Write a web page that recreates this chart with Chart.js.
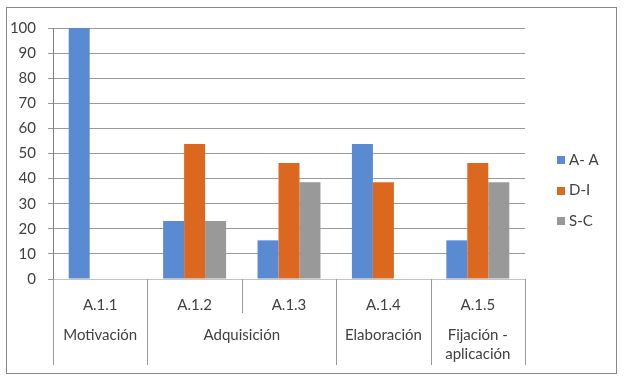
<!DOCTYPE html>
<html>
<head>
<meta charset="utf-8">
<script src="https://cdn.jsdelivr.net/npm/chart.js@4.4.0/dist/chart.umd.min.js"></script>
<style>
html,body{margin:0;padding:0;background:#fff;}
#wrap{width:626px;height:378px;position:relative;}
</style>
</head>
<body>
<div id="wrap"><canvas id="c" width="626" height="378"></canvas></div>
<script>
const categories = ['A.1.1', 'A.1.2', 'A.1.3', 'A.1.4', 'A.1.5'];
const groupLabels = ['Motivación', 'Adquisición', 'Elaboración', ['Fijación -', 'aplicación']];
const groupSpans = [1, 2, 1, 1];
const seriesNames = ['A- A', 'D-I', 'S-C'];
const seriesAA = [100, 23.1, 15.4, 53.8, 15.4];
const seriesDI = [0, 53.8, 46.2, 38.5, 46.2];
const seriesSC = [0, 23.1, 38.5, 0, 38.5];
const yTicks = [0, 10, 20, 30, 40, 50, 60, 70, 80, 90, 100];
const colors = ['#5A8AD2', '#DC6820', '#999999'];

const FONT = 'Lato, "Open Sans", sans-serif';
const TEXT = '#404040';
const GRID = '#9a9a9a';

const decor = {
  id: 'decor',
  afterDraw(chart) {
    const ctx = chart.ctx;
    const x = chart.scales.x;
    const area = chart.chartArea;
    const half = (x.getPixelForValue(1) - x.getPixelForValue(0)) / 2;
    const top = area.bottom;
    const rowBottom = top + 34;
    const bottom = top + 86;
    ctx.save();
    ctx.strokeStyle = GRID;
    ctx.lineWidth = 1;
    // boundaries
    let groupEdges = [0];
    let acc = 0;
    groupSpans.forEach(s => { acc += s; groupEdges.push(acc); });
    for (let i = 0; i <= categories.length; i++) {
      const px = Math.round(x.getPixelForValue(i) - half) + 0.5;
      const full = groupEdges.includes(i);
      ctx.beginPath();
      ctx.moveTo(px, top);
      ctx.lineTo(px, full ? bottom : rowBottom);
      ctx.stroke();
    }
    // group labels
    ctx.fillStyle = TEXT;
    ctx.font = '15px ' + FONT;
    ctx.textAlign = 'center';
    ctx.textBaseline = 'middle';
    groupLabels.forEach((lab, g) => {
      const s = groupEdges[g], e = groupEdges[g + 1];
      const cx = (x.getPixelForValue(s) + x.getPixelForValue(e - 1)) / 2;
      const lines = Array.isArray(lab) ? lab : [lab];
      lines.forEach((ln, k) => ctx.fillText(ln, cx, top + 56 + k * 19));
    });
    // legend
    ctx.textAlign = 'left';
    chart.data.datasets.forEach((ds, i) => {
      const ly = 160 + i * 30.5;
      ctx.fillStyle = ds.backgroundColor;
      ctx.fillRect(557, Math.round(ly - 4), 8, 8);
      ctx.fillStyle = TEXT;
      ctx.fillText(ds.label, 569, ly);
    });
    // outer border
    ctx.strokeStyle = '#878787';
    ctx.strokeRect(6.5, 7.5, 610, 366);
    ctx.restore();
  }
};

new Chart(document.getElementById('c'), {
  type: 'bar',
  data: {
    labels: categories,
    datasets: [
      { label: seriesNames[0], data: seriesAA, backgroundColor: colors[0] },
      { label: seriesNames[1], data: seriesDI, backgroundColor: colors[1] },
      { label: seriesNames[2], data: seriesSC, backgroundColor: colors[2] }
    ]
  },
  options: {
    responsive: false,
    animation: false,
    devicePixelRatio: 1,
    layout: { padding: { top: 28, right: 101, left: 0, bottom: 0 } },
    datasets: { bar: { categoryPercentage: 0.667, barPercentage: 1.0 } },
    plugins: { legend: { display: false }, tooltip: { enabled: false } },
    scales: {
      x: {
        grid: { display: false, drawTicks: false },
        border: { display: true, color: '#c4c4c4' },
        ticks: { color: TEXT, font: { size: 15, family: FONT }, padding: 17, maxRotation: 0 },
        afterFit(s) { s.height = 99; }
      },
      y: {
        min: 0, max: 100,
        afterBuildTicks(s) { s.ticks = yTicks.map(v => ({ value: v })); },
        grid: { color: GRID, tickLength: 5, tickColor: GRID },
        border: { display: true, color: '#808080' },
        ticks: { color: TEXT, font: { size: 15, family: FONT }, padding: 12 },
        afterFit(s) { s.width = 53; }
      }
    }
  },
  plugins: [decor]
});
</script>
</body>
</html>
